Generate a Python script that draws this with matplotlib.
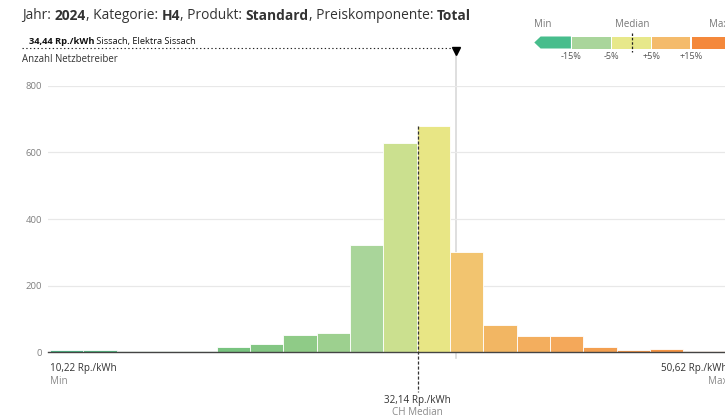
import matplotlib
matplotlib.use('Agg')
import matplotlib.pyplot as plt
from matplotlib.transforms import blended_transform_factory
from matplotlib.patches import Polygon
from matplotlib.lines import Line2D

plt.rcParams['font.family'] = ['Open Sans', 'DejaVu Sans']

# ---------------- data ----------------
counts = [7, 7, 4, 4, 4, 17, 25, 52, 59, 321, 628, 679, 302, 82, 49, 49, 17, 6, 9, 4, 3]
bar_colors = ['#4fba86', '#55ba82', '#5dbb7c', '#62bc7b', '#68be7b', '#78c37f', '#83c683',
              '#8fcb87', '#9dd08f', '#a9d59a', '#cbe08f', '#e8e685', '#f2c46f', '#f2b663',
              '#f3ae5e', '#f4a85a', '#f39f50', '#f39748', '#f49444', '#f38d40', '#f38a3c']
bin_start = 10.22
bin_width = 1.986
price_min = 10.22
price_max = 50.62
price_median = 32.14
price_sel = 34.44
yticks = [0, 200, 400, 600, 800]
legend_ticks = ['-15%', '-5%', '+5%', '+15%']
legend_colors = ['#47bd8c', '#a9d59b', '#e7e88a', '#f4bb6c', '#f4883b']

W, H = 725, 418
fig = plt.figure(figsize=(W / 100, H / 100), dpi=100)

def fx(px):
    return px / W

def fy(py):
    return 1 - py / H

# axes placement
px_per_unit = 16.78
ax_left_px, ax_right_px = 48, 725
y0_px, y800_px = 352.4, 85.7
ax = fig.add_axes([fx(ax_left_px), fy(y0_px), (ax_right_px - ax_left_px) / W, (y0_px - y800_px) / H])
xl = price_min - (50 - ax_left_px) / px_per_unit
ax.set_xlim(xl, xl + (ax_right_px - ax_left_px) / px_per_unit)
ax.set_ylim(0, 800)

lefts = [bin_start + i * bin_width for i in range(len(counts))]
ax.bar(lefts, counts, width=bin_width, align='edge', color=bar_colors,
       edgecolor='white', linewidth=0.6, zorder=3, clip_on=False)

ax.set_yticks(yticks)
ax.set_yticklabels([str(v) for v in yticks])
ax.tick_params(axis='y', length=0, pad=4.5, labelsize=6.8, labelcolor='#808080')
ax.set_xticks([])
ax.grid(axis='y', color='#e8e8e8', linewidth=0.9, zorder=0)
for s in ['left', 'right', 'top']:
    ax.spines[s].set_visible(False)
ax.spines['bottom'].set_color('#444444')
ax.spines['bottom'].set_linewidth(1.0)
ax.spines['bottom'].set_zorder(5)

bt = blended_transform_factory(ax.transData, fig.transFigure)

# selected operator line
ax.plot([price_sel, price_sel], [fy(51), fy(358)], transform=bt, color='#d9d9d9',
        linewidth=1.2, zorder=1, clip_on=False)
ax.plot([price_sel], [fy(50.5)], transform=bt, marker='v', markersize=5.5,
        color='black', clip_on=False, zorder=6)
fig.add_artist(Line2D([fx(22), fx(453)], [fy(48), fy(48)], color='#222222',
                      linewidth=0.8, linestyle=(0, (1.2, 2.2))))

# median line
ax.plot([price_median, price_median], [fy(126), fy(392)], transform=bt, color='#333333',
        linewidth=0.9, linestyle=(0, (2.5, 1.5)), zorder=6, clip_on=False)

# chained text helper
def chain(parts, x_px, y_px, size, color='#333333'):
    t = fig.text(fx(x_px), fy(y_px), parts[0][0], fontsize=size, fontweight=parts[0][1],
                 color=color, va='baseline', ha='left')
    for s, w in parts[1:]:
        t = fig.add_artist(matplotlib.text.Annotation(
            s, xy=(1, 0), xycoords=t, fontsize=size, fontweight=w,
            color=color, va='bottom', ha='left'))
    return t

chain([('Jahr: ', 'normal'), ('2024', 'bold'), (', Kategorie: ', 'normal'), ('H4', 'bold'),
       (', Produkt: ', 'normal'), ('Standard', 'bold'), (', Preiskomponente: ', 'normal'),
       ('Total', 'bold')], 22, 19.3, 9.9, color='#333333')

chain([('34,44 Rp./kWh', 'bold'), (' Sissach, Elektra Sissach', 'normal')], 29, 44.3, 6.7,
      color='#111111')

fig.text(fx(22), fy(61.7), 'Anzahl Netzbetreiber', fontsize=6.95, color='#333333', va='baseline')

# bottom labels
ax.text(price_min, fy(370.7), '10,22 Rp./kWh', transform=bt, fontsize=7.1, color='#333333',
        va='baseline', ha='left')
ax.text(price_min, fy(383.5), 'Min', transform=bt, fontsize=7.1, color='#8a8a8a',
        va='baseline', ha='left')
ax.text(price_max, fy(370.7), '50,62 Rp./kWh', transform=bt, fontsize=7.1, color='#333333',
        va='baseline', ha='right', clip_on=False)
ax.text(price_max, fy(383.5), 'Max', transform=bt, fontsize=7.1, color='#8a8a8a',
        va='baseline', ha='right', clip_on=False)
ax.text(price_median, fy(402.7), '32,14 Rp./kWh', transform=bt, fontsize=7.1, color='#333333',
        va='baseline', ha='center')
ax.text(price_median, fy(415.3), 'CH Median', transform=bt, fontsize=7.1, color='#8a8a8a',
        va='baseline', ha='center')

# legend colour bar
seg_edges = [540, 571.5, 611.5, 651.5, 691, 730]
top, bot = 36.5, 48.5
mid = (top + bot) / 2
for i, c in enumerate(legend_colors):
    x0, x1 = seg_edges[i] + 0.6, seg_edges[i + 1] - 0.6
    if i == 0:
        pts = [(534.3, mid), (x0, top), (x1, top), (x1, bot), (x0, bot)]
    else:
        pts = [(x0, top), (x1, top), (x1, bot), (x0, bot)]
    fig.add_artist(Polygon([(fx(a), fy(b)) for a, b in pts], closed=True,
                           facecolor=c, edgecolor='none'))
for lab, xe in zip(legend_ticks, seg_edges[1:5]):
    fig.text(fx(xe), fy(59), lab, fontsize=6.6, color='#555555', ha='center', va='baseline')
fig.text(fx(534), fy(27.3), 'Min', fontsize=7, color='#777777', ha='left', va='baseline')
fig.text(fx(632), fy(27.3), 'Median', fontsize=7, color='#777777', ha='center', va='baseline')
fig.text(fx(709), fy(27.3), 'Max', fontsize=7, color='#777777', ha='left', va='baseline')
fig.add_artist(Line2D([fx(632.3), fx(632.3)], [fy(33), fy(51.5)], color='#222222',
                      linewidth=0.9, linestyle=(0, (2, 1.5))))

fig.savefig('out.png', dpi=100)
